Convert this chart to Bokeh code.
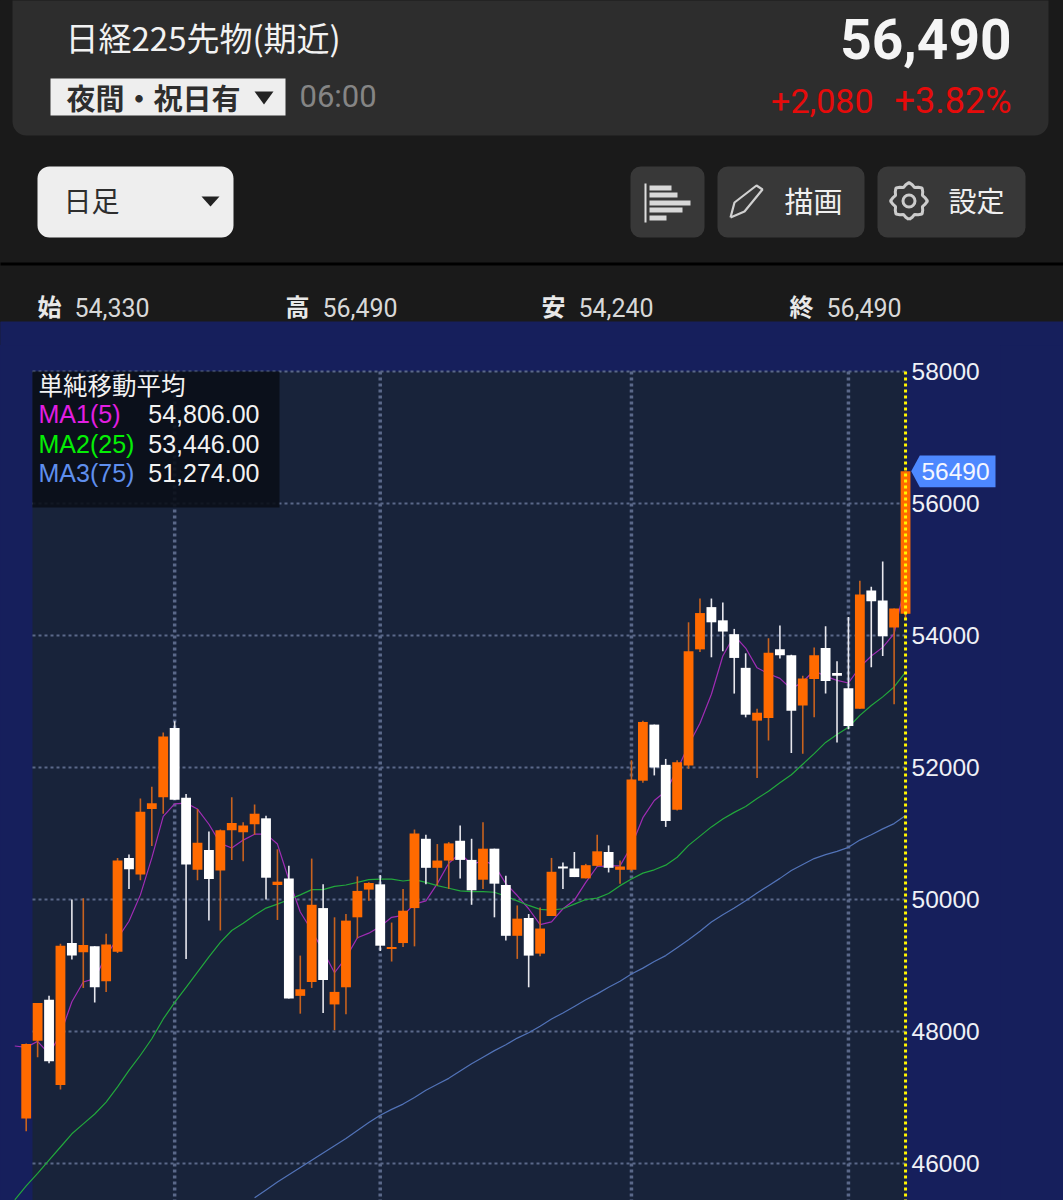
import numpy as np
from bokeh.plotting import figure
from bokeh.layouts import column
from bokeh.models import Range1d, FixedTicker
from bokeh.core.properties import value
from bokeh.embed import file_html
from bokeh.resources import INLINE

opens = [46680,47860,48480,47190,49340,49200,49290,48760,49210,50630,50380,51370,51550,52600,51540,50450,50750,50440,51050,51020,
         51140,51230,50220,50320,48540,48750,49870,48410,48670,49730,50150,50230,49250,49340,49870,50920,50480,50590,50890,50600,
         50300,50770,50220,49450,49720,49180,49750,50500,50470,50320,50510,50720,50450,50450,51800,52650,52040,51360,52030,53790,
         54430,54230,54020,53510,52710,52750,53790,53700,52940,53340,53810,53430,53200,52890,54680,54530,54120,54330]
highs = [47820,48430,48540,49330,50000,50020,49290,49480,50630,50680,51530,51710,52530,52700,51600,51370,51030,51060,51550,51170,
         51440,51270,50760,50510,49150,50620,50230,49730,49780,50350,50260,50370,49650,50160,51060,50980,50840,50870,51120,50920,
         51170,50770,50360,49910,49780,49880,50630,50560,50720,50540,50980,50820,50590,52110,52710,52650,52130,52110,54200,54560,
         54560,54500,54100,53730,52890,53960,54150,53710,53390,53820,54140,53610,54280,54830,54740,55120,54410,56490]
lows = [46490,47610,47520,47120,49090,48660,48440,48600,49190,50160,50290,50810,51300,51510,49100,50290,49680,49530,50600,50580,
        50980,50000,49690,48500,48270,48660,48280,48020,48260,49410,49980,49220,49060,49280,49290,50230,50210,50160,50320,49920,
        50160,49730,49380,49100,48670,49140,49750,50160,50340,50320,50500,50410,50240,50430,51770,51880,51100,51350,51980,53750,
        53670,53760,53120,52760,51840,52410,53650,52220,52210,52760,53120,52380,52580,52890,53520,53690,52960,54240]
closes = [47810,48430,47550,49300,49150,49310,48670,49320,50590,50460,51330,51460,52470,51510,50530,50860,50310,51050,51160,51120,
          51300,50330,50270,48500,48640,49920,48780,48600,49680,50130,50250,49300,49280,49830,51000,50480,50590,50850,50600,50140,
          50770,50240,49450,49710,49150,49560,50420,50470,50340,50520,50730,50480,50500,51820,52690,52000,51190,52080,53760,54340,
          54200,54060,53660,52800,52830,53740,53700,52860,53350,53700,53310,53390,52630,54620,54520,53990,54410,56490]
# moving averages; ma1 and ma2 begin one session before the first visible candle
ma1 = [47780,47760,47850,47660,47960,48450,48750,48800,49150,49410,49670,50070,50630,51260,51450,51460,51370,51140,50850,50780,
       50900,50990,50990,50840,50300,49810,49530,49220,48890,49120,49420,49490,49590,49730,49760,49930,49980,50240,50550,50700,
       50530,50590,50520,50240,50060,49860,49620,49660,49860,49990,50260,50500,50510,50510,50810,51240,51500,51640,51960,52340,
       52670,53110,53690,54000,53810,53510,53420,53350,53190,53300,53470,53380,53320,53280,53520,53690,53820,54030,54806]
ma2 = [45450,45660,45850,46050,46250,46450,46600,46750,46930,47160,47410,47640,47890,48190,48440,48670,48900,49130,49350,49530,
       49640,49760,49870,49930,50000,50070,50150,50150,50200,50220,50260,50300,50310,50310,50280,50300,50260,50210,50170,50130,
       50120,50120,50110,50050,49980,49910,49850,49840,49860,49930,50000,50020,50090,50210,50310,50400,50450,50520,50640,50820,
       50960,51100,51220,51320,51410,51530,51640,51770,51890,52050,52210,52380,52500,52610,52790,52940,53070,53220,53446]
ma3 = [45480,45600,45720,45830,45940,46050,46160,46270,46380,46500,46620,46730,46820,46900,47000,47110,47200,47290,47400,47510,
       47610,47710,47800,47900,47980,48080,48190,48280,48380,48480,48570,48670,48760,48870,48960,49060,49150,49270,49390,49520,
       49660,49770,49870,49980,50100,50210,50320,50440,50530,50620,50680,50730,50790,50900,50980,51070,51150,51274]
price_ticks = [46000, 48000, 50000, 52000, 54000, 56000, 58000]
month_starts = [13, 31, 53, 72]
legend_rows = [("MA1(5)", "54,806.00", "#e21ee2"), ("MA2(25)", "53,446.00", "#05ee05"), ("MA3(75)", "51,274.00", "#5f8fee")]
ohlc_labels = [("始", "54,330", 38, 75), ("高", "56,490", 286, 323), ("安", "54,240", 542, 579), ("終", "56,490", 790, 827)]

JP = value("Noto Sans CJK JP")
RB = value("Roboto")
LS = value("Liberation Sans")
NAVY = "#161f5c"
SPLIT = 345

# ---------- header ----------
h = figure(width=1063, height=SPLIT, x_range=Range1d(1, 1064), y_range=Range1d(SPLIT + 1, 1),
           x_axis_type=None, y_axis_type=None, toolbar_location=None, output_backend="svg",
           background_fill_color="#1a1a1a", border_fill_color="#1a1a1a", outline_line_color=None,
           min_border=0, min_border_left=0, min_border_right=0, min_border_top=0, min_border_bottom=0,
           frame_align=False)
h.grid.visible = False

def box(l, r, t, b, color, radius=0):
    h.quad(left=[l], right=[r], top=[t], bottom=[b], fill_color=color, line_color=None, border_radius=radius)

def txt(x, y, s, size, color, font=JP, align="left", style="normal"):
    h.text(x=[x], y=[y], text=[s], text_font=font, text_font_size=f"{size}px", text_color=color,
           text_align=align, text_baseline="middle", text_font_style=style)

box(-1, 1064, 322, SPLIT + 2, NAVY)
box(13, 1049, -20, 136, "#2d2d2d", 14)
txt(66, 37, "日経225先物(期近)", 33, "#f2f2f2")
txt(1012, 39, "56,490", 55, "#f5f5f5", RB, "right", "bold")
box(51, 286, 79, 116, "#eeeeee")
txt(67, 97, "夜間・祝日有", 29, "#2e2e2e", JP, "left", "bold")
h.patch(x=[255, 274, 264.5], y=[92, 92, 105], fill_color="#222222", line_color=None)
txt(300, 97, "06:00", 31, "#858585", RB)
txt(874, 101, "+2,080", 34, "#e60b0b", RB, "right")
txt(1012, 101, "+3.82%", 36, "#e60b0b", RB, "right")

box(38, 234, 167, 238, "#eeeeee", 12)
txt(64, 200, "日足", 28, "#2e2e2e")
h.patch(x=[202, 220, 211], y=[197, 197, 207], fill_color="#222222", line_color=None)
box(631, 705, 167, 238, "#383838", 10)
box(718, 865, 167, 238, "#383838", 10)
box(878, 1026, 167, 238, "#383838", 10)
h.segment(x0=[646], y0=[184], x1=[646], y1=[223], line_color="#dddddd", line_width=2)
for (x_end, y0) in [(672, 186), (678, 193), (691, 201), (683, 208), (667, 216)]:
    box(650, x_end, y0, y0 + 5, "#d8d8d8")
h.line(x=[731, 735, 757, 763, 745, 731], y=[218, 203, 186, 190, 212, 218], line_color="#d0d0d0", line_width=2.2)
txt(785, 200, "描画", 29, "#f0f0f0")
ang = np.linspace(0, 2 * np.pi, 33)
rad = np.where(np.arange(33) % 4 == 0, 18.5, np.where(np.arange(33) % 4 == 2, 14.5, 16.5))
h.line(x=909.5 + rad * np.cos(ang + np.pi / 2), y=201.5 + rad * np.sin(ang + np.pi / 2), line_color="#cccccc", line_width=3)
h.circle(x=[909.5], y=[201.5], radius=6, fill_color=None, line_color="#cccccc", line_width=3)
txt(949, 200, "設定", 28, "#f0f0f0")
box(0, 1064, 263, 266, "#000000")
for lab, val, x0, x1 in ohlc_labels:
    txt(x0, 306, lab, 24, "#e8e8e8", JP, "left", "bold")
    txt(x1, 308, val, 25, "#d8d8d8", RB)

# ---------- chart: data scale anchored on the picture's axis positions ----------
def Xpx(px):
    return (px - 25.7) / 11.42

def Ypx(py):
    return 58000 - (py - 371) / 0.066

FRAME_RIGHT = 1000
p = figure(width=1063, height=1200 - SPLIT, x_range=Range1d(Xpx(0), Xpx(FRAME_RIGHT)), y_range=Range1d(Ypx(1200), Ypx(SPLIT)),
           x_axis_type=None, y_axis_location="right", toolbar_location=None, output_backend="svg",
           background_fill_color=NAVY, border_fill_color=NAVY, outline_line_color=None,
           min_border_left=0, min_border_right=1063 - FRAME_RIGHT, min_border_top=0, min_border_bottom=0, frame_align=False)
p.grid.visible = False
ax = p.yaxis[0]
ax.ticker = FixedTicker(ticks=price_ticks)
ax.formatter.use_scientific = False
ax.axis_line_color = None
ax.major_tick_line_color = None
ax.minor_tick_line_color = None
ax.major_tick_in = 0
ax.major_tick_out = 0
ax.major_label_standoff = 911 - FRAME_RIGHT
ax.major_label_text_font = "Liberation Sans"
ax.major_label_text_font_size = "24.5px"
ax.major_label_text_color = "#eef0f6"

p.quad(left=[Xpx(32)], right=[Xpx(905)], top=[Ypx(371)], bottom=[Ypx(1200)], fill_color="#18233a", line_color=None)
p.segment(x0=[Xpx(32)] * len(price_ticks), x1=[Xpx(905)] * len(price_ticks), y0=price_ticks, y1=price_ticks,
          line_color="#5a6889", line_width=2, line_dash="3 3")
p.segment(x0=month_starts, x1=month_starts, y0=[Ypx(371)] * 4, y1=[Ypx(1200)] * 4,
          line_color="#5a6889", line_width=3.5, line_dash="3 3")

idx = np.arange(len(closes))
p.line(np.arange(-1, 78), ma1, line_color="#a02cb4", line_width=1.2)
p.line(np.arange(-1, 78), ma2, line_color="#22a83c", line_width=1.2)
p.line(np.arange(20, 78), ma3, line_color="#5273b8", line_width=1.2)

o, hi, lo, c = map(np.array, (opens, highs, lows, closes))
up = c >= o
p.segment(idx[up], hi[up], idx[up], lo[up], line_color="#c8621e", line_width=1.6)
p.segment(idx[~up], hi[~up], idx[~up], lo[~up], line_color="#e8e8ee", line_width=1.6)
p.vbar(idx[up], 0.86, o[up], c[up], fill_color="#ff6a00", line_color=None)
p.vbar(idx[~up], 0.86, c[~up], o[~up], fill_color="#ffffff", line_color=None)
p.segment([77], [Ypx(371)], [77], [Ypx(1200)], line_color="#fff500", line_width=3, line_dash="3 3")

# legend box
p.quad(left=[Xpx(32)], right=[Xpx(279)], top=[Ypx(371)], bottom=[Ypx(507)], fill_color="#0a0e18", fill_alpha=0.9, line_color=None)
p.text(x=[Xpx(38)], y=[Ypx(383.5)], text=["単純移動平均"], text_font=JP, text_font_size="24.5px", text_color="#f2f2f2",
       text_baseline="middle")
for k, (name, val, col) in enumerate(legend_rows):
    yy = [Ypx(413.5 + 29.5 * k)]
    p.text(x=[Xpx(38)], y=yy, text=[name], text_font=LS, text_font_size="25px", text_color=col, text_baseline="middle")
    p.text(x=[Xpx(259)], y=yy, text=[val], text_font=LS, text_font_size="25px", text_color="#f2f2f2",
           text_align="right", text_baseline="middle")

# last price tag
p.patch(x=[Xpx(910.7), Xpx(919.3), Xpx(995), Xpx(995), Xpx(919.3)],
        y=[closes[-1], Ypx(455), Ypx(455), Ypx(486.7), Ypx(486.7)],
        fill_color="#4d88ff", line_color=None)
p.text(x=[Xpx(955)], y=[closes[-1]], text=[str(closes[-1])], text_font=LS, text_font_size="24.5px",
       text_color="#f4f6ff", text_align="center", text_baseline="middle")

page = column(h, p, spacing=0)
html = file_html(page, INLINE).replace(
    "<body>", '<body style="margin:0;overflow:hidden;background:linear-gradient(#1a1a1a 322px,#161f5c 322px)">')
open("out.html", "w").write(html)
